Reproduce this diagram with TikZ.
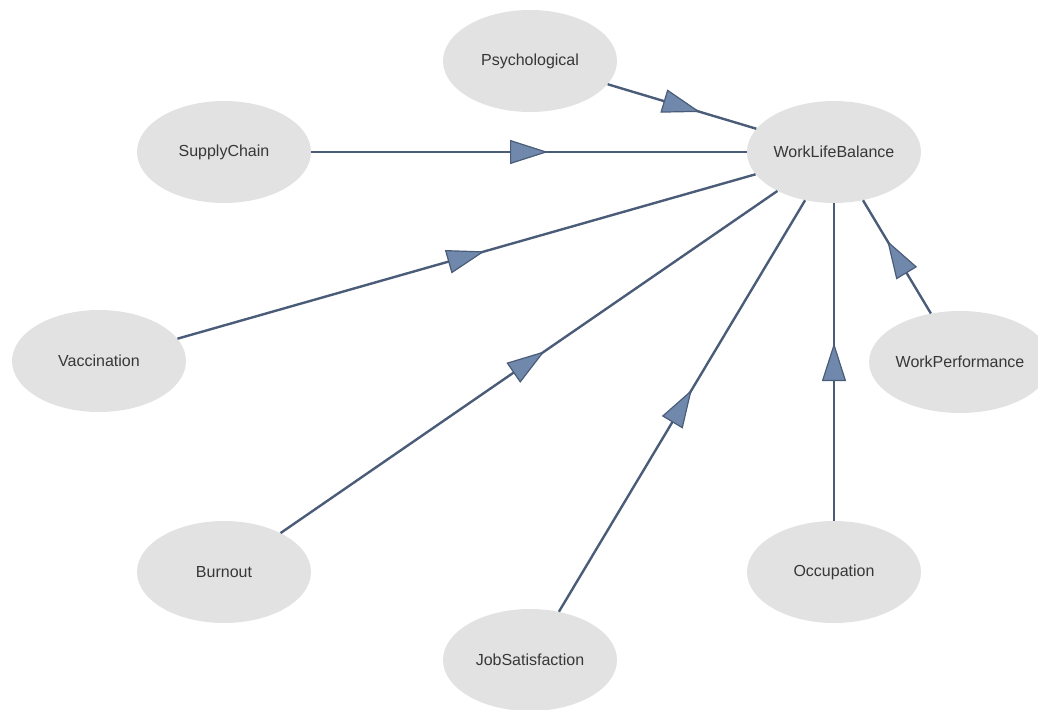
\documentclass[tikz,border=0pt]{standalone}
\usepackage{fontspec}
\setmainfont{Liberation Sans}
\usetikzlibrary{shapes.geometric, arrows.meta, decorations.markings}

\definecolor{edgecol}{RGB}{74,92,120}
\definecolor{headcol}{RGB}{112,136,172}
\definecolor{nodecol}{RGB}{226,226,226}
\definecolor{textcol}{RGB}{55,55,55}

\begin{document}
\begin{tikzpicture}[
        x=1pt, y=-1pt,
        factor/.style={ellipse, fill=nodecol, draw=none, minimum width=174pt, minimum height=102pt, inner sep=0pt, text=textcol, font=\fontsize{16}{19}\selectfont},
        flow/.style={draw=edgecol, line width=2.4pt, postaction={decorate},
            decoration={markings, mark=at position 0.5 with {\arrow[xshift=19pt]{Triangle[length=38pt, width=24pt, fill=headcol, line width=1.2pt]}}}}
    ]
        \useasboundingbox (0,0) rectangle (1038,709);

        % Nó central
        \node[factor] (wlb) at (834,152) {WorkLifeBalance};

        % Fatores
        \node[factor] (psych) at (530,61) {Psychological};
        \node[factor] (supply) at (224,152) {SupplyChain};
        \node[factor] (vacc) at (99,361) {Vaccination};
        \node[factor] (perf) at (960,362) {WorkPerformance};
        \node[factor] (burn) at (224,572) {Burnout};
        \node[factor] (jobsat) at (530,660) {JobSatisfaction};
        \node[factor] (occup) at (834,572) {Occupation};

        % Ligações
        \draw[flow] (psych) -- (wlb);
        \draw[flow] (supply) -- (wlb);
        \draw[flow] (vacc) -- (wlb);
        \draw[flow] (burn) -- (wlb);
        \draw[flow] (jobsat) -- (wlb);
        \draw[flow] (occup) -- (wlb);
        \draw[flow] (perf) -- (wlb);
    \end{tikzpicture}
\end{document}
